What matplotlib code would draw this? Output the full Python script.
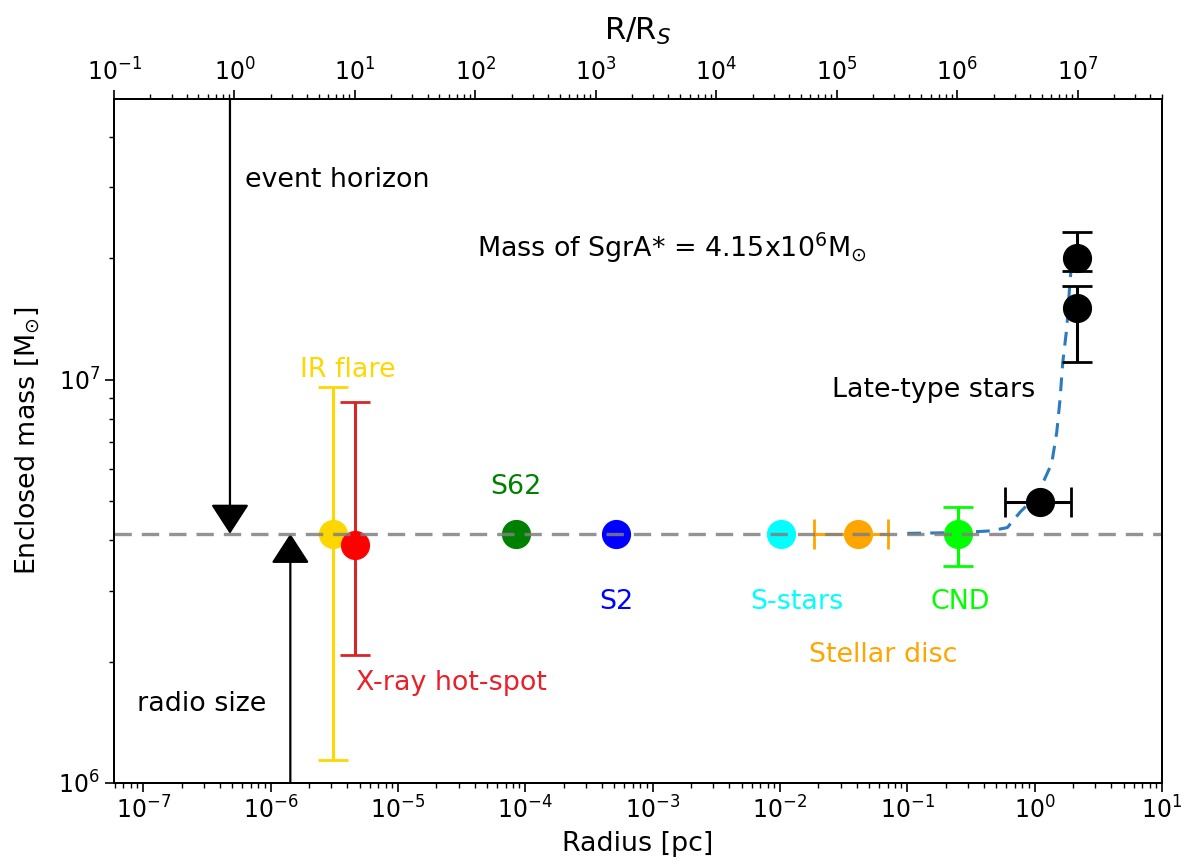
import matplotlib
matplotlib.use("Agg")
import matplotlib.pyplot as plt

# Enclosed mass vs radius around SgrA*

M_BH = 4.15e6

# point measurements (radius in pc, mass in Msun)
ir_r, ir_m, ir_lo, ir_hi = 3.1e-6, 4.15e6, 1.14e6, 9.6e6
xray_r, xray_m, xray_lo, xray_hi = 4.6e-6, 3.9e6, 2.08e6, 8.8e6
s62_r, s62_m = 8.5e-5, 4.15e6
s2_r, s2_m = 5.2e-4, 4.15e6
sstars_r, sstars_m = 1.02e-2, 4.15e6
disc_r, disc_m, disc_rlo, disc_rhi = 0.041, 4.15e6, 0.0185, 0.0705
cnd_r, cnd_m, cnd_lo, cnd_hi = 0.25, 4.15e6, 3.45e6, 4.84e6

# late-type stars
late_r = [1.1, 2.14, 2.14]
late_m = [4.98e6, 2.01e7, 1.51e7]
late_rlo = [0.58, 2.14, 2.14]
late_rhi = [1.92, 2.14, 2.14]
late_mlo = [4.98e6, 1.86e7, 1.11e7]
late_mhi = [4.98e6, 2.33e7, 1.71e7]

# model curve (BH + stellar cluster)
curve_r = [0.1, 0.26, 0.45, 0.61, 0.77, 1.0, 1.16, 1.36, 1.49, 1.58, 1.66, 1.79, 1.89, 2.0]
curve_m = [4.16e6, 4.18e6, 4.22e6, 4.3e6, 4.7e6, 5.1e6, 5.55e6, 6.2e6, 7.4e6,
           8.9e6, 1.1e7, 1.35e7, 1.74e7, 2.1e7]

# arrows
horizon_r = 4.8e-7
radio_r = 1.43e-6

# major ticks
r_ticks = [1e-7, 1e-6, 1e-5, 1e-4, 1e-3, 1e-2, 1e-1, 1e0, 1e1]
rs_ticks = [1e-1, 1e0, 1e1, 1e2, 1e3, 1e4, 1e5, 1e6, 1e7]
m_ticks = [1e6, 1e7]

fs = 17     # tick labels
fl = 19.4   # axis labels and annotations
plt.rcParams["font.size"] = fs
plt.rcParams["axes.linewidth"] = 1.4

fig = plt.figure(figsize=(11.89, 8.65), dpi=100)
ax = fig.add_axes([0.0959, 0.0948, 0.8814, 0.7907])
ax.set_xscale("log")
ax.set_yscale("log")
ax.set_xticks(r_ticks)
ax.set_yticks(m_ticks)
ax.set_xlim(5.9e-8, 10)
ax.set_ylim(1e6, 4.97e7)

ms = 20
eb = dict(capsize=11, capthick=2, elinewidth=2.2, ms=ms, fmt="o", zorder=3)

ax.errorbar(ir_r, ir_m, yerr=[[ir_m - ir_lo], [ir_hi - ir_m]], color="gold", **eb)
ax.errorbar(xray_r, xray_m, yerr=[[xray_m - xray_lo], [xray_hi - xray_m]],
            color="red", ecolor="#d62728", **eb)
ax.plot(s62_r, s62_m, "o", color="green", ms=ms, zorder=3)
ax.plot(s2_r, s2_m, "o", color="blue", ms=ms, zorder=3)
ax.plot(sstars_r, sstars_m, "o", color="cyan", ms=ms, zorder=3)
ax.errorbar(disc_r, disc_m, xerr=[[disc_r - disc_rlo], [disc_rhi - disc_r]],
            color="orange", **eb)
ax.errorbar(cnd_r, cnd_m, yerr=[[cnd_m - cnd_lo], [cnd_hi - cnd_m]], color="lime", **eb)

ax.plot(curve_r, curve_m, "--", color="#2a7bbf", lw=2.2, dashes=(4.5, 3), zorder=2.5)

for i in range(len(late_r)):
	xe = [[late_r[i] - late_rlo[i]], [late_rhi[i] - late_r[i]]]
	ye = [[late_m[i] - late_mlo[i]], [late_mhi[i] - late_m[i]]]
	if late_rlo[i] != late_r[i]:
		ax.errorbar(late_r[i], late_m[i], xerr=xe, color="black", **eb)
	else:
		ax.errorbar(late_r[i], late_m[i], yerr=ye, color="black", **eb)

ax.axhline(M_BH, color="gray", ls="--", lw=2.4, dashes=(5.2, 3), alpha=0.85, zorder=4)

arrow = dict(arrowstyle="-|>,head_width=0.55,head_length=0.85", color="black",
             lw=1.6, shrinkA=0, shrinkB=0, mutation_scale=22)
ax.annotate("", xy=(horizon_r, M_BH), xytext=(horizon_r, 4.97e7), arrowprops=arrow)
ax.annotate("", xy=(radio_r, M_BH), xytext=(radio_r, 1e6), arrowprops=arrow)

ax.text(6.3e-7, 3.13e7, "event horizon", va="center", ha="left", fontsize=fl)
ax.text(8.97e-8, 1.57e6, "radio size", va="center", ha="left", fontsize=fl)
ax.text(4.07e-6, 1.06e7, "IR flare", color="gold", va="center", ha="center", fontsize=fl)
ax.text(4.7e-6, 1.77e6, "X-ray hot-spot", color="#e8202a", va="center", ha="left", fontsize=fl)
ax.text(8.5e-5, 5.42e6, "S62", color="green", va="center", ha="center", fontsize=fl)
ax.text(5.2e-4, 2.81e6, "S2", color="blue", va="center", ha="center", fontsize=fl)
ax.text(0.0136, 2.81e6, "S-stars", color="cyan", va="center", ha="center", fontsize=fl)
ax.text(0.0643, 2.08e6, "Stellar disc", color="orange", va="center", ha="center", fontsize=fl)
ax.text(0.259, 2.81e6, "CND", color="lime", va="center", ha="center", fontsize=fl)
ax.text(0.0256, 9.44e6, "Late-type stars", va="center", ha="left", fontsize=fl)
ax.text(4.19e-5, 2.13e7, r"Mass of SgrA* = 4.15x10$^6$M$_{\odot}$", va="center",
        ha="left", fontsize=fl)

ax.set_xlabel("Radius [pc]", labelpad=5, fontsize=fl)
ax.set_ylabel(r"Enclosed mass [M$_{\odot}$]", labelpad=12, fontsize=fl)
ax.tick_params(which="major", length=6.5, width=1.2, labelsize=fs)
ax.tick_params(which="minor", length=3.5, width=1.0)

ax2 = ax.twiny()
ax2.set_xscale("log")
ax2.set_xticks(rs_ticks)
ax2.set_xlim(0.1, 5e7)
ax2.set_xlabel(r"R/R$_S$", labelpad=13, fontsize=22)
ax2.tick_params(which="major", length=6.5, width=1.2, labelsize=fs)
ax2.tick_params(which="minor", length=3.5, width=1.0)

fig.savefig("out.png", dpi=100)
